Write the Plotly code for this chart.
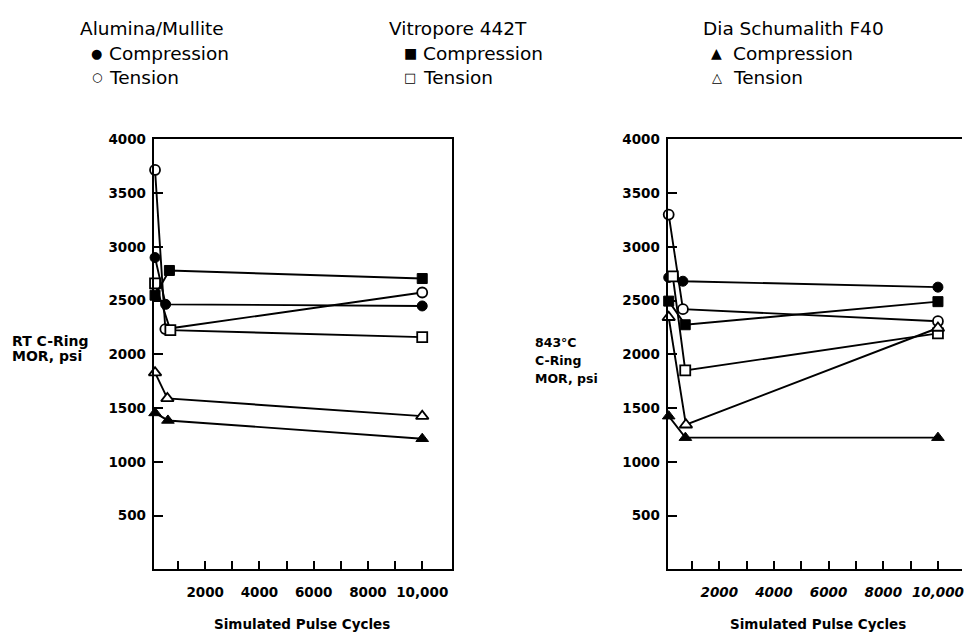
import plotly.graph_objects as go

# ---------------- data ----------------
materials = ["Alumina/Mullite", "Vitropore 442T", "Dia Schumalith F40"]
modes = ["Compression", "Tension"]

# RT C-Ring MOR, psi  (left panel)
rt_x_alumina_comp = [150, 540, 10000]
rt_y_alumina_comp = [2900, 2465, 2450]
rt_x_alumina_tens = [150, 530, 10000]
rt_y_alumina_tens = [3715, 2235, 2575]
rt_x_vitro_comp = [150, 680, 10000]
rt_y_vitro_comp = [2550, 2780, 2705]
rt_x_vitro_tens = [150, 715, 10000]
rt_y_vitro_tens = [2660, 2225, 2160]
rt_x_dia_comp = [150, 625, 10000]
rt_y_dia_comp = [1455, 1385, 1215]
rt_x_dia_tens = [150, 605, 10000]
rt_y_dia_tens = [1830, 1590, 1425]

# 843 C C-Ring MOR, psi  (right panel)
ht_x_alumina_comp = [150, 670, 10000]
ht_y_alumina_comp = [2715, 2680, 2625]
ht_x_alumina_tens = [150, 670, 10000]
ht_y_alumina_tens = [3300, 2420, 2308]
ht_x_vitro_comp = [150, 755, 10000]
ht_y_vitro_comp = [2495, 2275, 2490]
ht_x_vitro_tens = [300, 755, 10000]
ht_y_vitro_tens = [2725, 1850, 2195]
ht_x_dia_comp = [150, 760, 10000]
ht_y_dia_comp = [1425, 1225, 1225]
ht_x_dia_tens = [150, 780, 10000]
ht_y_dia_tens = [2345, 1345, 2245]

x_tick_vals = [1000, 2000, 3000, 4000, 5000, 6000, 7000, 8000, 9000, 10000]
x_tick_text = ["", "2000", "", "4000", "", "6000", "", "8000", "", "10,000"]
y_tick_vals = [500, 1000, 1500, 2000, 2500, 3000, 3500, 4000]
y_tick_text = ["500", "1000", "1500", "2000", "2500", "3000", "3500", "4000"]

# ---------------- figure ----------------
W, H = 964, 635
BLACK = "#000000"

symbols = {
    ("Alumina/Mullite", "Compression"): "circle",
    ("Alumina/Mullite", "Tension"): "circle-open",
    ("Vitropore 442T", "Compression"): "square",
    ("Vitropore 442T", "Tension"): "square-open",
    ("Dia Schumalith F40", "Compression"): "triangle-up",
    ("Dia Schumalith F40", "Tension"): "triangle-up-open",
}

rt_series = [
    ("Alumina/Mullite", "Tension", rt_x_alumina_tens, rt_y_alumina_tens),
    ("Alumina/Mullite", "Compression", rt_x_alumina_comp, rt_y_alumina_comp),
    ("Vitropore 442T", "Tension", rt_x_vitro_tens, rt_y_vitro_tens),
    ("Vitropore 442T", "Compression", rt_x_vitro_comp, rt_y_vitro_comp),
    ("Dia Schumalith F40", "Tension", rt_x_dia_tens, rt_y_dia_tens),
    ("Dia Schumalith F40", "Compression", rt_x_dia_comp, rt_y_dia_comp),
]
ht_series = [
    ("Alumina/Mullite", "Tension", ht_x_alumina_tens, ht_y_alumina_tens),
    ("Alumina/Mullite", "Compression", ht_x_alumina_comp, ht_y_alumina_comp),
    ("Vitropore 442T", "Tension", ht_x_vitro_tens, ht_y_vitro_tens),
    ("Vitropore 442T", "Compression", ht_x_vitro_comp, ht_y_vitro_comp),
    ("Dia Schumalith F40", "Tension", ht_x_dia_tens, ht_y_dia_tens),
    ("Dia Schumalith F40", "Compression", ht_x_dia_comp, ht_y_dia_comp),
]

fig = go.Figure()


def add_series(series, xa, ya):
    for mat, mode, xs, ys in series:
        sym = symbols[(mat, mode)]
        is_tri = sym.startswith("triangle")
        size = 11 if is_tri else 10
        if sym.endswith("open"):
            sym_draw = sym.replace("-open", "")
            marker = dict(symbol=sym_draw, size=size, color="white",
                          line=dict(color=BLACK, width=1.8))
        else:
            marker = dict(symbol=sym, size=size, color=BLACK,
                          line=dict(color=BLACK, width=1))
        fig.add_trace(go.Scatter(
            x=xs, y=ys, mode="lines+markers", xaxis=xa, yaxis=ya,
            line=dict(color=BLACK, width=1.9), marker=marker,
            name=f"{mat} {mode}", showlegend=False, cliponaxis=False,
        ))


add_series(rt_series, "x", "y")
add_series(ht_series, "x2", "y2")

ydom = [1 - 568.5 / H, 1 - 133 / H]
tickfont = dict(family="DejaVu Sans", size=13.5, color=BLACK, weight="bold")

common_x = dict(showgrid=False, zeroline=False, showline=True, linecolor=BLACK,
                linewidth=2, ticks="inside", ticklen=8, tickwidth=2,
                tickcolor=BLACK, tickvals=x_tick_vals, ticktext=x_tick_text,
                ticklabelstandoff=9, ticklabeloverflow="allow")
common_y = dict(showgrid=False, zeroline=False, showline=True, linecolor=BLACK,
                linewidth=2, ticks="inside", ticklen=9, tickwidth=2,
                tickcolor=BLACK, tickvals=y_tick_vals, ticktext=y_tick_text,
                range=[0, 4000], tickfont=tickfont, ticklabelstandoff=3)

fig.update_layout(
    width=W, height=H, margin=dict(l=0, r=0, t=0, b=0),
    paper_bgcolor="white", plot_bgcolor="white",
    xaxis=dict(domain=[154 / W, 453 / W], range=[100, 11100], mirror=True,
               anchor="y", tickfont=tickfont, **common_x),
    yaxis=dict(domain=ydom, anchor="x", mirror=True, **common_y),
    xaxis2=dict(domain=[669 / W, 1.0], range=[110, 10880], mirror=True,
                anchor="y2",
                tickfont=dict(family="DejaVu Sans", size=13.5, color=BLACK,
                              weight="bold", style="italic"),
                **common_x),
    yaxis2=dict(domain=ydom, anchor="x2", mirror=False, **common_y),
)


def ann(text, px, py, size, xanchor="left", bold=False, family="DejaVu Sans"):
    fig.add_annotation(
        text=text, x=px / W, y=1 - py / H, xref="paper", yref="paper",
        xanchor=xanchor, yanchor="middle", showarrow=False,
        font=dict(family=family, size=size, color=BLACK,
                  weight="bold" if bold else "normal"),
    )


# axis titles
ann("Simulated Pulse Cycles", 303, 624, 13.5, xanchor="center", bold=True)
ann("Simulated Pulse Cycles", 820, 624, 13.5, xanchor="center", bold=True)
ann("RT C-Ring", 10, 337, 14, bold=True)
ann("MOR, psi", 10, 352, 14, bold=True)
ann("843°C", 534, 339, 12.5, bold=True)
ann("C-Ring", 534, 357, 12.5, bold=True)
ann("MOR, psi", 534, 375, 12.5, bold=True)

# legend block (text + glyph markers)
legend_title_x = [78, 388, 702]
legend_marker_x = [97, 411, 718]
legend_text_x = [107, 422, 733]
legend_glyphs = {
    "Alumina/Mullite": ("●", "○", 13, 12),
    "Vitropore 442T": ("■", "□", 14, 13),
    "Dia Schumalith F40": ("▲", "△", 14, 13),
}
for i, mat in enumerate(materials):
    ann(mat, legend_title_x[i], 21, 18.5)
    g_c, g_t, s_c, s_t = legend_glyphs[mat]
    ann(g_c, legend_marker_x[i], 46, s_c, xanchor="center")
    ann(g_t, legend_marker_x[i], 70, s_t, xanchor="center")
    ann(modes[0], legend_text_x[i], 46, 18.5)
    ann(modes[1], legend_text_x[i], 70, 18.5)

fig.write_html("out.html")
